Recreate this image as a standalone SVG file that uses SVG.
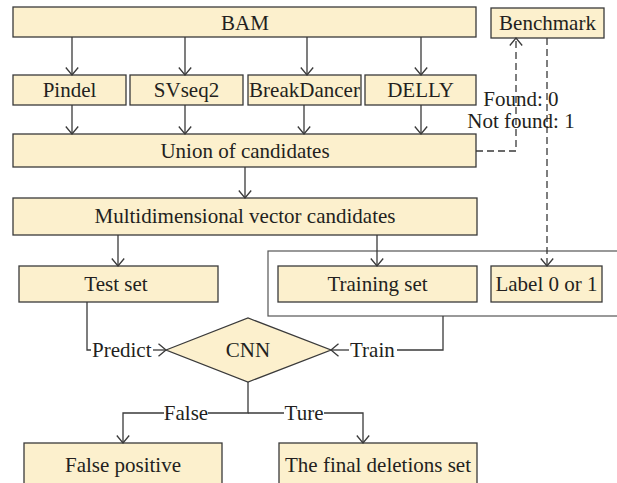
<svg xmlns="http://www.w3.org/2000/svg" width="617" height="483" viewBox="0 0 617 483">
<style>
.box{fill:#fcf0cd;stroke:#3a3a3a;stroke-width:1.3}
.t{font-family:'Liberation Serif','DejaVu Serif','Times New Roman',serif;font-size:21px;fill:#231f20;text-anchor:middle}
.l{font-family:'Liberation Serif','DejaVu Serif','Times New Roman',serif;font-size:21px;fill:#231f20}
.c{fill:none;stroke:#3a3a3a;stroke-width:1.3}
.a{marker-end:url(#arr)}
.d{stroke-dasharray:7,4}
</style>
<defs>
<marker id="arr" markerUnits="userSpaceOnUse" markerWidth="9" markerHeight="14" viewBox="0 0 9 14" refX="8" refY="7" orient="auto">
<path d="M0.5,0.8 L8,7 L0.5,13.2" fill="none" stroke="#3a3a3a" stroke-width="1.3"/>
</marker>
</defs>
<rect width="617" height="483" fill="#ffffff"/>
<g id="frame"><rect x="268" y="251" width="360" height="65" fill="none" stroke="#555" stroke-width="1.2"/></g>
<g id="bam"><rect class="box" x="13" y="7" width="463" height="30"/><text class="t" x="245" y="29.5">BAM</text></g>
<g id="benchmark"><rect class="box" x="491" y="8" width="113" height="30"/><text class="t" x="547.5" y="30">Benchmark</text></g>
<g id="pindel"><rect class="box" x="13" y="75" width="113" height="30"/><text class="t" x="69.5" y="97">Pindel</text></g>
<g id="svseq2"><rect class="box" x="130" y="75" width="113" height="30"/><text class="t" x="186.5" y="97">SVseq2</text></g>
<g id="breakdancer"><rect class="box" x="248" y="75" width="113" height="30"/><text class="t" x="304.5" y="97" font-size="20.5">BreakDancer</text></g>
<g id="delly"><rect class="box" x="365" y="75" width="111" height="30"/><text class="t" x="420.5" y="97">DELLY</text></g>
<g id="union"><rect class="box" x="13" y="134" width="463" height="33"/><text class="t" x="245" y="158">Union of candidates</text></g>
<g id="multi"><rect class="box" x="13" y="198" width="464" height="37"/><text class="t" x="245" y="223">Multidimensional vector candidates</text></g>
<g id="testset"><rect class="box" x="19" y="266" width="199" height="36"/><text class="t" x="116" y="290.5">Test set</text></g>
<g id="trainingset"><rect class="box" x="278" y="266" width="199" height="36"/><text class="t" x="377.5" y="290.5">Training set</text></g>
<g id="label"><rect class="box" x="491" y="266" width="111" height="36"/><text class="t" x="546.5" y="290.5">Label 0 or 1</text></g>
<g id="cnn"><polygon class="box" points="166,350 248,318 331,350 248,382"/><text class="t" x="248" y="357">CNN</text></g>
<g id="falsepositive"><rect class="box" x="24" y="443" width="198" height="50"/><text class="t" x="123" y="472">False positive</text></g>
<g id="finalset"><rect class="box" x="279" y="443" width="198" height="50"/><text class="t" x="378" y="472">The final deletions set</text></g>
<g id="connectors">
<path class="c a" d="M72,37 V75"/>
<path class="c a" d="M185,37 V75"/>
<path class="c a" d="M307,37 V75"/>
<path class="c a" d="M421,37 V75"/>
<path class="c a" d="M72,105 V134"/>
<path class="c a" d="M185,105 V134"/>
<path class="c a" d="M304,105 V134"/>
<path class="c a" d="M421,105 V134"/>
<path class="c a" d="M245,167 V198"/>
<path class="c a" d="M118,235 V266"/>
<path class="c a" d="M377,235 V266"/>
<path class="c d a" d="M476,151 H516 V38"/>
<path class="c d a" d="M547,38 V266"/>
<text class="t" x="521" y="106" font-size="20.5">Found: 0</text>
<text class="t" x="521" y="128" font-size="20.5">Not found: 1</text>
<path class="c" d="M87,302 V350 H91"/>
<text class="l" x="92" y="357">Predict</text>
<path class="c a" d="M153,350 H166"/>
<path class="c" d="M443,316 V350 H397"/>
<text class="l" x="350" y="357">Train</text>
<path class="c a" d="M349,350 H331"/>
<path class="c" d="M248,382 V413 H208"/>
<text class="t" x="186" y="420">False</text>
<path class="c a" d="M164,413 H123 V443"/>
<path class="c" d="M248,413 H284"/>
<text class="t" x="304" y="420">Ture</text>
<path class="c a" d="M324,413 H363 V443"/>
</g>
</svg>
